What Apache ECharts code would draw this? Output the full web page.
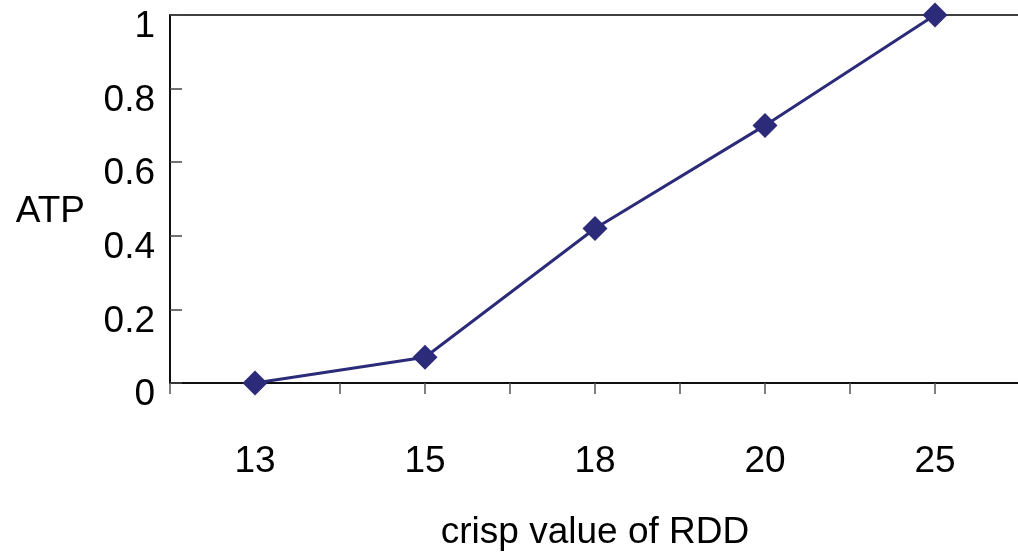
<!DOCTYPE html>
<html>
<head>
<meta charset="utf-8">
<script src="https://cdn.jsdelivr.net/npm/echarts@6/dist/echarts.min.js"></script>
<style>
  html, body { margin: 0; padding: 0; background: #fff; }
  #chart { width: 1018px; height: 553px; }
</style>
</head>
<body>
<div id="chart"></div>
<script>
// crisp RDD values on the x axis
var rddValues = ['13', '15', '18', '20', '25'];
// ATP
var atpValues = [0, 0.07, 0.42, 0.70, 1.0];
// half-step ticks under the axis (two per category)
var halfTicks = ['', '', '', '', '', '', '', '', '', ''];

var lineColor = '#2B2B7A';
var font = 'Liberation Sans, Arial, sans-serif';

var chart = echarts.init(document.getElementById('chart'));
var option = {
  backgroundColor: '#fff',
  animation: false,
  grid: {
    left: 170,
    top: 15,
    width: 850,
    height: 368,
    outerBoundsMode: 'none',
    containLabel: false,
    show: true,
    borderColor: '#000',
    borderWidth: 1.5
  },
  xAxis: [
    {
      type: 'category',
      data: rddValues,
      boundaryGap: true,
      name: 'crisp value of RDD',
      nameLocation: 'middle',
      nameGap: 131,
      nameTextStyle: { color: '#000', fontSize: 37, fontFamily: font },
      axisLine: { lineStyle: { color: '#000', width: 1.5 } },
      axisTick: { show: false },
      axisLabel: { color: '#000', fontSize: 37, fontFamily: font, margin: 60 },
      splitLine: { show: false }
    },
    {
      type: 'category',
      data: halfTicks,
      position: 'bottom',
      boundaryGap: true,
      axisLine: { show: false },
      axisTick: { show: true, inside: false, length: 11, interval: 0, lineStyle: { color: '#555', width: 1.5 } },
      axisLabel: { show: false },
      splitLine: { show: false }
    }
  ],
  yAxis: {
    type: 'value',
    min: 0,
    max: 1,
    interval: 0.2,
    name: 'ATP',
    nameLocation: 'middle',
    nameRotate: 0,
    nameGap: 85,
    nameTextStyle: { color: '#000', fontSize: 37, fontFamily: font, verticalAlign: 'top', lineHeight: 26 },
    axisLine: { show: true, lineStyle: { color: '#000', width: 1.5 } },
    axisTick: { show: true, inside: true, length: 12, lineStyle: { color: '#444', width: 1.5 } },
    axisLabel: {
      color: '#000', fontSize: 37, fontFamily: font, margin: 15,
      verticalAlign: 'top', lineHeight: 24,
      formatter: function (v) { return String(Math.round(v * 10) / 10); }
    },
    splitLine: { show: false }
  },
  series: [
    {
      type: 'line',
      data: atpValues,
      xAxisIndex: 0,
      symbol: 'diamond',
      symbolSize: [25, 25],
      lineStyle: { color: lineColor, width: 3 },
      itemStyle: { color: lineColor },
      z: 5
    }
  ]
};
chart.setOption(option);
</script>
</body>
</html>
